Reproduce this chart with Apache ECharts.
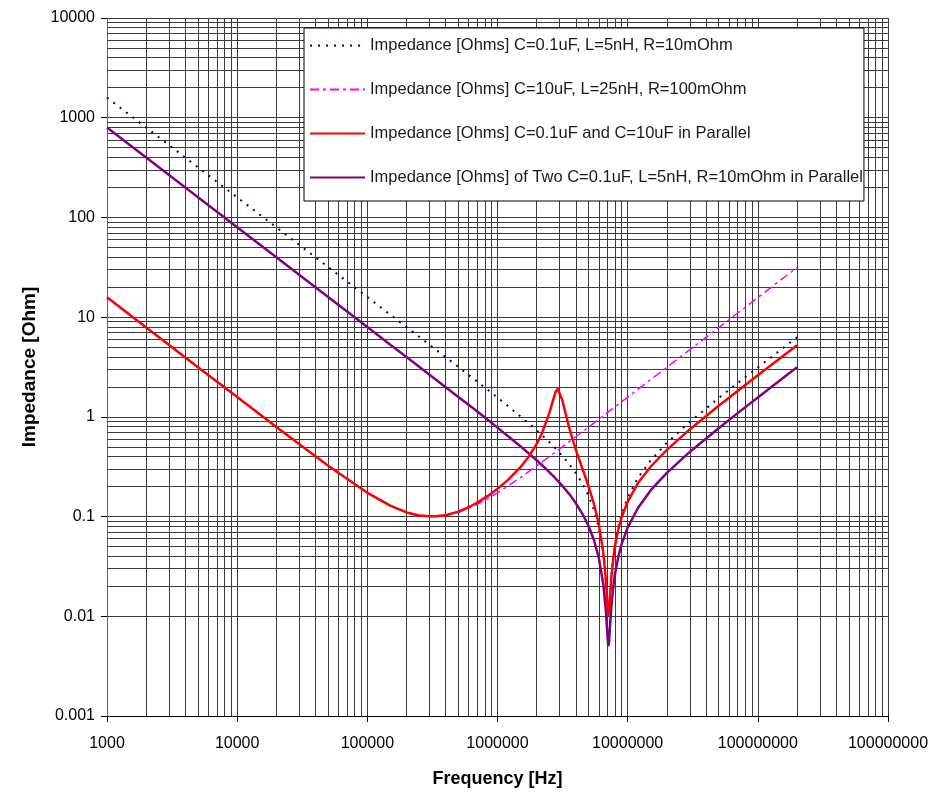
<!DOCTYPE html>
<html>
<head>
    <meta charset="utf-8">
    <script src="https://cdn.jsdelivr.net/npm/echarts@6/dist/echarts.min.js"></script>
    <style type="text/css">
        html, body { width: 100%; height: 100%; margin: 0; background: #fff; }
        #chart { width: 941px; height: 793px; }
    </style>
</head>
<body>
<div id="chart"></div>
<script type="text/javascript">
    // frequency points (Hz), shared by every curve
    var freqHz = [1e3, 2e3, 5e3, 1e4, 2e4, 5e4, 1e5, 1.5e5, 2e5, 2.5e5, 3.2e5, 4e5, 5e5, 6e5, 7e5, 8.5e5, 1e6, 1.2e6, 1.5e6, 1.75e6,
        2e6, 2.2e6, 2.5e6, 2.65e6, 2.8e6, 2.9e6, 3e6, 3.15e6, 3.3e6, 3.6e6, 4e6, 4.5e6, 5e6, 5.5e6, 6e6, 6.5e6, 6.8e6,
        7e6, 7.1e6, 7.2e6, 7.35e6, 7.5e6, 7.8e6, 8e6, 8.5e6, 9e6, 1e7, 1.2e7, 1.5e7, 2e7, 3e7, 5e7, 7e7, 1e8, 1.5e8, 2e8];

    // impedance (Ohm)
    var zCap01 = [1592, 796, 318, 159, 79.6, 31.8, 15.9, 10.6, 7.95, 6.36, 4.96, 3.97, 3.17, 2.63, 2.25, 1.85, 1.56, 1.29, 1.01, 0.855,
        0.733, 0.654, 0.558, 0.517, 0.480, 0.458, 0.436, 0.406, 0.379, 0.329, 0.272, 0.213, 0.162, 0.117, 0.0774, 0.0418, 0.0227,
        0.0125, 0.0101, 0.0112, 0.0175, 0.0254, 0.0422, 0.0533, 0.0804, 0.106, 0.155, 0.245, 0.365, 0.549, 0.889, 1.54, 2.18, 3.13, 4.70, 6.28];
    var zCap10 = [15.9, 7.96, 3.18, 1.59, 0.799, 0.326, 0.175, 0.130, 0.111, 0.103, 0.100, 0.103, 0.110, 0.121, 0.133, 0.152, 0.173, 0.202, 0.246, 0.284,
        0.322, 0.353, 0.399, 0.422, 0.446, 0.461, 0.477, 0.500, 0.523, 0.570, 0.632, 0.710, 0.789, 0.867, 0.945, 1.02, 1.07,
        1.10, 1.12, 1.13, 1.16, 1.18, 1.23, 1.26, 1.34, 1.42, 1.57, 1.89, 2.36, 3.14, 4.71, 7.85, 11.0, 15.7, 23.6, 31.4];
    var zParallelMix = [15.8, 7.88, 3.15, 1.58, 0.791, 0.323, 0.173, 0.129, 0.110, 0.1025, 0.100, 0.103, 0.112, 0.124, 0.138, 0.162, 0.190, 0.232, 0.313, 0.405,
        0.535, 0.690, 1.09, 1.42, 1.79, 1.91, 1.83, 1.47, 1.14, 0.730, 0.467, 0.300, 0.202, 0.135, 0.0841, 0.0435, 0.0232,
        0.0126, 0.0101, 0.0111, 0.0173, 0.0249, 0.0408, 0.0512, 0.0759, 0.099, 0.141, 0.217, 0.316, 0.467, 0.748, 1.29, 1.82, 2.61, 3.92, 5.23];
    var zParallelTwo = [796, 398, 159, 79.6, 39.8, 15.9, 7.96, 5.30, 3.98, 3.18, 2.48, 1.98, 1.58, 1.32, 1.13, 0.923, 0.780, 0.644, 0.507, 0.427,
        0.367, 0.327, 0.279, 0.259, 0.240, 0.229, 0.218, 0.203, 0.189, 0.165, 0.136, 0.106, 0.0808, 0.0585, 0.0386, 0.0209, 0.0114,
        0.0063, 0.0050, 0.0056, 0.0088, 0.0127, 0.0211, 0.0267, 0.0402, 0.0532, 0.0777, 0.122, 0.183, 0.274, 0.445, 0.770, 1.09, 1.56, 2.35, 3.14];

    var seriesNames = [
        'Impedance [Ohms] C=0.1uF, L=5nH, R=10mOhm',
        'Impedance [Ohms] C=10uF, L=25nH, R=100mOhm',
        'Impedance [Ohms] C=0.1uF and C=10uF in Parallel',
        'Impedance [Ohms] of Two C=0.1uF, L=5nH, R=10mOhm in Parallel'
    ];

    // tick labels, one per decade
    var xTickLabels = ['1000', '10000', '100000', '1000000', '10000000', '100000000', '100000000'];
    var yTickLabels = ['0.001', '0.01', '0.1', '1', '10', '100', '1000', '10000'];

    // minor grid lines 2..9 of every decade
    var minorSteps = [2, 3, 4, 5, 6, 7, 8, 9];
    var xDecades = [1e3, 1e4, 1e5, 1e6, 1e7, 1e8];
    var yDecades = [1e-3, 1e-2, 1e-1, 1, 10, 100, 1000];

    var gridColor = '#3a3a3a';
    var font = 'Liberation Sans, Arial, sans-serif';

    function pairs(vals) {
        return freqHz.map(function (f, i) { return [f, vals[i]]; });
    }

    var gridMarks = [];
    xDecades.forEach(function (d) {
        minorSteps.forEach(function (m) { gridMarks.push({ xAxis: d * m }); });
    });
    yDecades.forEach(function (d) {
        minorSteps.forEach(function (m) { gridMarks.push({ yAxis: +(d * m).toPrecision(3) }); });
    });

    var option = {
        backgroundColor: '#fff',
        animation: false,
        textStyle: { fontFamily: font },
        grid: { left: 107, right: 53, top: 18, bottom: 75, containLabel: false },
        legend: {
            orient: 'vertical',
            left: 304,
            top: 28,
            z: 20,
            data: seriesNames,
            selectedMode: false,
            backgroundColor: '#fff',
            borderColor: '#000',
            borderWidth: 1,
            borderRadius: 0,
            padding: [9, 1, 15, 5],
            itemGap: 27,
            itemWidth: 55,
            itemHeight: 14,
            itemStyle: { opacity: 0 },
            textStyle: { fontFamily: font, fontSize: 16.5, color: '#1a1a1a' }
        },
        xAxis: {
            type: 'log',
            logBase: 10,
            min: 1000,
            max: 1e9,
            splitNumber: 6,
            name: 'Frequency [Hz]',
            nameLocation: 'middle',
            nameGap: 54,
            nameTextStyle: { fontFamily: font, fontSize: 18, fontWeight: 'bold', color: '#000' },
            axisLine: { lineStyle: { color: '#000', width: 1 } },
            axisTick: { show: true, length: 6, inside: false, lineStyle: { color: '#000' } },
            axisLabel: {
                margin: 20, fontSize: 16, color: '#000', fontFamily: font,
                formatter: function (v) { return xTickLabels[Math.round(Math.log10(v)) - 3]; }
            },
            splitLine: { show: true, lineStyle: { color: gridColor, width: 1 } }
        },
        yAxis: {
            type: 'log',
            logBase: 10,
            min: 0.001,
            max: 10000,
            splitNumber: 7,
            name: 'Impedance [Ohm]',
            nameLocation: 'middle',
            nameGap: 67,
            nameTextStyle: { fontFamily: font, fontSize: 19, fontWeight: 'bold', color: '#000' },
            axisLine: { show: true, lineStyle: { color: '#666', width: 1 } },
            axisTick: { show: true, length: 6, inside: false, lineStyle: { color: '#000' } },
            axisLabel: {
                margin: 12, fontSize: 16, color: '#000', fontFamily: font,
                formatter: function (v) { return yTickLabels[Math.round(Math.log10(v)) + 3]; }
            },
            splitLine: { show: true, lineStyle: { color: gridColor, width: 1 } }
        },
        series: [
            {
                name: 'grid',
                type: 'line',
                data: [[1000, 0.001]],
                symbol: 'none',
                lineStyle: { opacity: 0 },
                silent: true,
                z: 1,
                markLine: {
                    z: 1,
                    silent: true,
                    symbol: ['none', 'none'],
                    label: { show: false },
                    emphasis: { disabled: true },
                    lineStyle: { color: gridColor, width: 1, type: 'solid' },
                    data: gridMarks
                }
            },
            {
                name: seriesNames[0],
                type: 'line',
                data: pairs(zCap01),
                symbol: 'none',
                z: 2,
                lineStyle: { color: '#000080', width: 2, type: [2, 6] },
                itemStyle: { color: '#000080' }
            },
            {
                name: seriesNames[1],
                type: 'line',
                data: pairs(zCap10),
                symbol: 'none',
                z: 3,
                lineStyle: { color: '#ff00ff', width: 1.5, type: [9, 4, 3, 4] },
                itemStyle: { color: '#ff00ff' }
            },
            {
                name: seriesNames[3],
                type: 'line',
                data: pairs(zParallelTwo),
                symbol: 'none',
                z: 4,
                lineStyle: { color: '#800080', width: 2.5 },
                itemStyle: { color: '#800080' }
            },
            {
                name: seriesNames[2],
                type: 'line',
                data: pairs(zParallelMix),
                symbol: 'none',
                z: 5,
                lineStyle: { color: '#ff0000', width: 2.5 },
                itemStyle: { color: '#ff0000' }
            }
        ]
    };

    var myChart = echarts.init(document.getElementById('chart'));
    myChart.setOption(option);
</script>
</body>
</html>
